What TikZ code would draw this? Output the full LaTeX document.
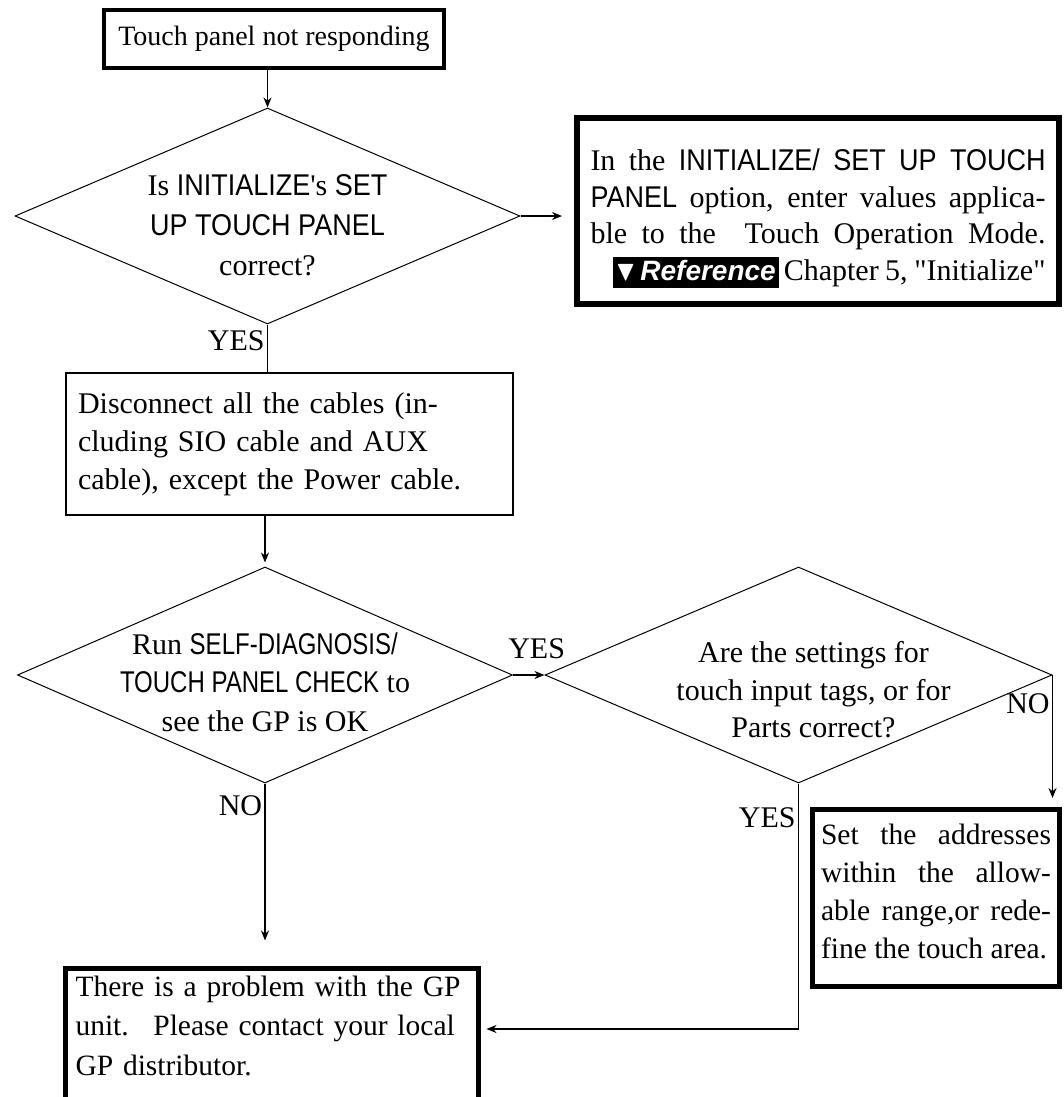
\documentclass[tikz,border=0pt]{standalone}
\usepackage{amssymb}
\usepackage{fontspec}
\setmainfont{Liberation Serif}
\newfontfamily\panelsans[FakeStretch=0.9]{Liberation Sans}
\newfontfamily\narrowsans[FakeStretch=0.8]{Liberation Sans}
\newfontfamily\badgesans{Liberation Sans}
\usetikzlibrary{
  shapes.geometric,
  arrows.meta,
  positioning
}
\definecolor{InkBlack}{RGB}{0, 0, 0}
\newcommand{\refbadge}{{\setlength{\fboxsep}{3pt}\colorbox{InkBlack}{\color{white}\badgesans\bfseries\itshape\fontsize{28}{28}\selectfont\rule[-5pt]{0pt}{25pt}$\blacktriangledown$\,Reference}}}
\tikzset{
    stepbox/.style={draw=InkBlack, rectangle, line width=2pt, inner sep=0pt, font=\fontsize{30}{38}\selectfont},
    heavybox/.style={stepbox, line width=5pt},
    decision/.style={draw=InkBlack, diamond, line width=1pt, inner sep=0pt},
    flowline/.style={line width=1.8pt, InkBlack},
    flowarrow/.style={flowline, -{Stealth[length=10pt, width=8pt]}},
    answer/.style={font=\fontsize{30}{36}\selectfont, inner sep=2pt}
}

\begin{document}
\begin{tikzpicture}[x=1pt, y=-1pt]
    \useasboundingbox (0,0) rectangle (1064,1097);

    % boxes
    \node[heavybox, line width=4pt, minimum width=340pt, minimum height=58pt, font=\fontsize{28}{34}\selectfont] (start) at (274,39) {Touch panel not responding};
    \node[heavybox, line width=6pt, minimum width=482pt, minimum height=186pt, text width=455pt, align=justify, font=\fontsize{30}{36.5}\selectfont] (setup) at (818,211) {%
        \rule{0pt}{37pt}In the {\panelsans INITIALIZE/ SET UP TOUCH}\linebreak
        {\panelsans PANEL} option, enter values applica-\linebreak
        ble to the~ Touch Operation Mode.\linebreak
        \hspace*{22pt}\refbadge\,Chapter 5, \textquotedbl Initialize\textquotedbl};
    \node[stepbox, minimum width=447pt, minimum height=142pt, text width=423pt, align=left] (unplug) at (289.5,444) {%
        Disconnect all the cables (in-\\
        cluding SIO cable and AUX\\
        cable), except the Power cable.};
    \node[heavybox, minimum width=247pt, minimum height=177pt, text width=230pt, align=justify, font=\fontsize{29.5}{38}\selectfont] (addr) at (936,898) {%
        Set the addresses\linebreak
        within the allow-\linebreak
        able range,or rede-\linebreak
        fine the touch area.\rule[-14pt]{0pt}{0pt}};
    \node[heavybox, anchor=north west, minimum width=413pt, text width=392pt, align=left, inner ysep=8pt, font=\fontsize{29.5}{39.5}\selectfont] (fault) at (62.5,965.5) {%
        There is a problem with the GP\\
        unit.~ Please contact your local\\
        GP distributor.\rule[-80pt]{0pt}{0pt}};

    % decisions
    \node[decision, minimum width=505pt, minimum height=216pt,
          label={[yshift=-9pt, align=center, font=\fontsize{30}{40}\selectfont]center:{Is {\panelsans INITIALIZE}\textquotesingle s {\panelsans SET}\\{\panelsans UP TOUCH PANEL}\\correct?}}] (initok) at (267.5,216) {};
    \node[decision, minimum width=495pt, minimum height=216pt,
          label={[yshift=-7pt, align=center, font=\fontsize{30}{38.5}\selectfont]center:{Run {\narrowsans SELF-DIAGNOSIS/}\\{\narrowsans TOUCH PANEL CHECK} to\\see the GP is OK}}] (selfdiag) at (265,675) {};
    \node[decision, minimum width=507pt, minimum height=216pt,
          label={[xshift=15pt, yshift=-15pt, align=center, font=\fontsize{30}{37.5}\selectfont]center:{Are the settings for\\touch input tags, or for\\Parts correct?}}] (tagsok) at (798.5,675) {};

    \coordinate (joint) at (798.5,1029);

    % connectors
    \draw[flowarrow] (start.south -| initok.north) -- (initok.north);
    \draw[flowarrow, shorten >=12pt] (initok.east) -- (setup.west |- initok.east);
    \draw[flowline] (initok.south) -- node[answer, left, pos=0.35] {YES} (initok.south |- unplug.north);
    \draw[flowarrow, shorten >=4pt] (unplug.south -| selfdiag.north) -- (selfdiag.north);
    \draw[flowarrow] (selfdiag.east) -- node[answer, above=13pt, pos=0.75] {YES} (tagsok.west);
    \draw[flowarrow, shorten >=25pt] (selfdiag.south) -- node[answer, left, pos=0.12] {NO} (selfdiag.south |- fault.north);
    \draw[flowarrow, shorten >=9pt] (tagsok.east) -- node[answer, left, pos=0.22] {NO} (tagsok.east |- addr.north);
    \draw[flowarrow, shorten >=6pt] (tagsok.south) -- node[answer, left, pos=0.14] {YES} (tagsok.south |- joint) -- (fault.east |- joint);
\end{tikzpicture}
\end{document}
